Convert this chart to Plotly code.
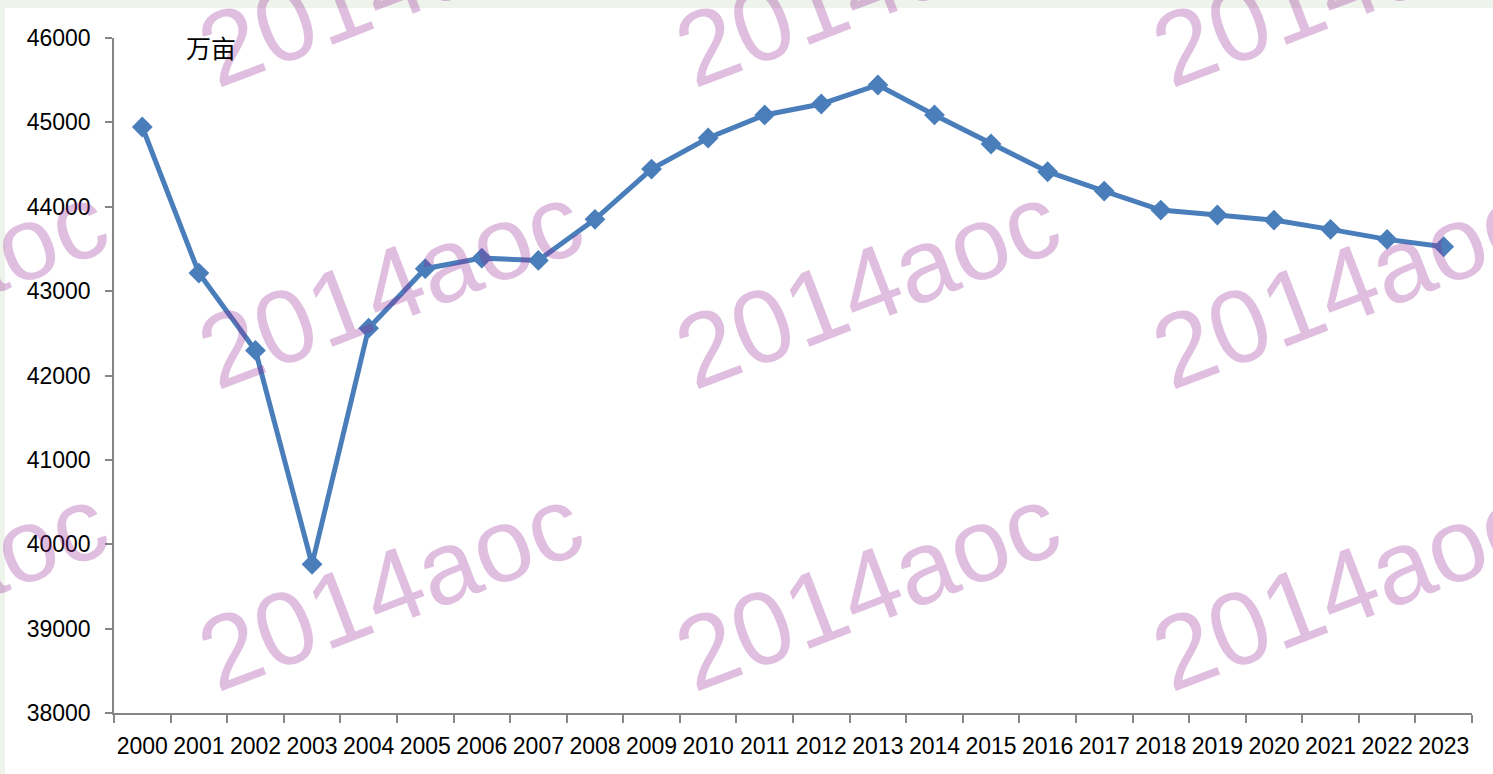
import plotly.graph_objects as go

years = [str(y) for y in range(2000, 2024)]
area = [44945, 43214, 42297, 39763, 42561, 43266, 43391, 43364, 43851, 44447,
        44815, 45088, 45218, 45443, 45088, 44744, 44415, 44186, 43961, 43902,
        43842, 43732, 43613, 43526]
y_ticks = [38000, 39000, 40000, 41000, 42000, 43000, 44000, 45000, 46000]
unit_label = "万亩"
watermark = "2014aoc"

W, H = 1493, 774
ML, MR, MT, MB = 114, 21, 38, 61
PW, PH = W - ML - MR, H - MT - MB


def px(x):
    return (x - ML) / PW


def py(y):
    return (H - MB - y) / PH


fig = go.Figure()
fig.add_trace(go.Scatter(
    x=years, y=area, mode="lines+markers",
    line=dict(color="#4a7ebb", width=5),
    marker=dict(symbol="diamond", size=16, color="#4a7ebb"),
    showlegend=False,
))

annotations = []
for cx in [-85, 390, 867, 1344]:
    for cy in [-16, 286, 588]:
        annotations.append(dict(
            x=px(cx), y=py(cy), xref="paper", yref="paper",
            text=watermark, showarrow=False, textangle=-21,
            xanchor="center", yanchor="middle",
            font=dict(family="Liberation Sans, Arial", size=104,
                      color="rgba(150,40,150,0.3)"),
        ))
annotations.append(dict(
    x=px(211), y=py(47), xref="paper", yref="paper", text=unit_label,
    showarrow=False, xanchor="center", yanchor="middle",
    font=dict(family="Noto Sans CJK SC", size=25, color="#000000"),
))

shapes = [
    dict(type="rect", xref="paper", yref="paper", layer="below",
         x0=px(0), x1=px(W), y0=py(8), y1=py(0),
         fillcolor="#eef3ec", line=dict(width=0)),
    dict(type="rect", xref="paper", yref="paper", layer="below",
         x0=px(0), x1=px(5), y0=py(H), y1=py(0),
         fillcolor="#eef3ec", line=dict(width=0)),
]

fig.update_layout(
    width=W, height=H,
    margin=dict(l=ML, r=MR, t=MT, b=MB, pad=0),
    paper_bgcolor="#ffffff", plot_bgcolor="rgba(0,0,0,0)",
    annotations=annotations, shapes=shapes,
    xaxis=dict(
        type="category", range=[-0.5, 23.5], tickson="boundaries",
        showline=True, linecolor="#868686", linewidth=1.5,
        ticks="outside", ticklen=8, tickcolor="#868686", tickwidth=1.5,
        showgrid=False, zeroline=False, tickangle=0, ticklabelstandoff=12,
        tickfont=dict(family="Liberation Sans, Arial", size=23, color="#000000"),
    ),
    yaxis=dict(
        range=[38000, 46000], tickvals=y_ticks,
        ticktext=[str(v) for v in y_ticks],
        showline=True, linecolor="#868686", linewidth=1.5,
        ticks="outside", ticklen=7, tickcolor="#868686", tickwidth=1.5,
        showgrid=False, zeroline=False, ticklabelstandoff=10,
        tickfont=dict(family="Liberation Sans, Arial", size=23, color="#000000"),
    ),
)

fig.write_html(
    "out.html",
    config={"displayModeBar": False},
    post_script="document.body.style.margin='0';document.body.style.overflow='hidden';",
)
